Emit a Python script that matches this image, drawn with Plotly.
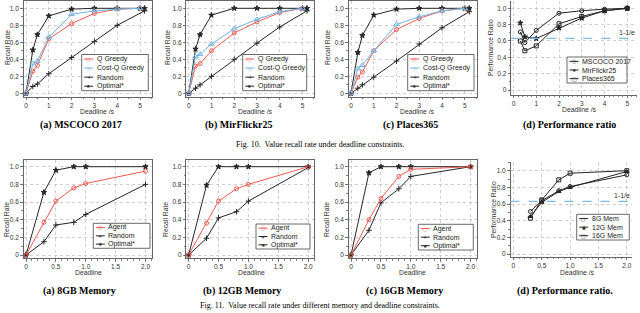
import plotly.graph_objects as go

W, H = 640, 313

# ---------------- data: Fig. 10 ----------------
deadline_top = [0, 0.3, 0.5, 1, 2, 3, 4, 5]
deadline_opt_top = [0, 0.3, 0.5, 1, 2, 3, 4, 5, 5.2]
deadline_rand_top = [0, 0.3, 0.5, 1, 2, 3, 4, 5.2]

mscoco_q = [0, 0.26, 0.33, 0.64, 0.82, 0.94, 0.99, 1.0]
mscoco_costq = [0, 0.35, 0.38, 0.66, 0.93, 0.97, 0.99, 1.0]
mscoco_rand = [0, 0.08, 0.11, 0.23, 0.42, 0.61, 0.80, 0.97]
mscoco_opt = [0, 0.51, 0.69, 0.91, 0.99, 1.0, 1.0, 1.0, 1.0]

mir_q = [0, 0.32, 0.35, 0.50, 0.71, 0.84, 0.95, 1.0]
mir_costq = [0, 0.43, 0.46, 0.58, 0.76, 0.87, 0.96, 1.0]
mir_rand = [0, 0.06, 0.10, 0.20, 0.40, 0.59, 0.78, 0.97]
mir_opt = [0, 0.52, 0.69, 0.92, 1.0, 1.0, 1.0, 1.0, 1.0]

places_q = [0, 0.19, 0.25, 0.50, 0.75, 0.88, 0.97, 1.0]
places_costq = [0, 0.29, 0.33, 0.50, 0.81, 0.90, 0.97, 1.0]
places_rand = [0, 0.06, 0.10, 0.19, 0.38, 0.58, 0.77, 0.96]
places_opt = [0, 0.48, 0.68, 0.92, 0.99, 1.0, 1.0, 1.0, 1.0]

ratio_x_top = [0.3, 0.5, 1, 2, 3, 4, 5]
ratio_mscoco = [0.71, 0.58, 0.73, 0.94, 0.97, 0.99, 1.0]
ratio_mir = [0.82, 0.65, 0.63, 0.76, 0.88, 0.97, 1.0]
ratio_places = [0.60, 0.48, 0.54, 0.81, 0.90, 0.97, 1.0]

# ---------------- data: Fig. 11 ----------------
deadline_bot = [0, 0.3, 0.5, 0.8, 1.0, 2.0]
mem8_agent = [0, 0.37, 0.61, 0.76, 0.81, 0.95]
mem8_rand = [0, 0.15, 0.34, 0.37, 0.46, 0.80]
mem8_opt = [0, 0.71, 0.96, 1.0, 1.0, 1.0]
mem12_agent = [0, 0.36, 0.61, 0.75, 0.80, 1.0]
mem12_rand = [0, 0.19, 0.42, 0.49, 0.61, 0.99]
mem12_opt = [0, 0.79, 1.0, 1.0, 1.0, 1.0]
mem16_agent = [0, 0.40, 0.64, 0.89, 0.97, 1.0]
mem16_rand = [0, 0.28, 0.59, 0.75, 0.89, 1.0]
mem16_opt = [0, 0.93, 1.0, 1.0, 1.0, 1.0]

ratio_x_bot = [0.3, 0.5, 0.8, 1.0, 2.0]
ratio_8g = [0.51, 0.64, 0.76, 0.81, 0.95]
ratio_12g = [0.45, 0.62, 0.75, 0.80, 0.99]
ratio_16g = [0.43, 0.65, 0.89, 0.97, 1.0]

bound = 0.632  # 1-1/e

# tick labels
xt_top = [0, 1, 2, 3, 4, 5]
xt_top_lbl = ["0", "1", "2", "3", "4", "5"]
xt_bot = [0, 0.5, 1.0, 1.5, 2.0]
xt_bot_lbl = ["0", "0.5", "1.0", "1.5", "2.0"]
yt = [0, 0.2, 0.4, 0.6, 0.8, 1.0]
yt_lbl = ["0", "0.2", "0.4", "0.6", "0.8", "1.0"]

# ---------------- styles ----------------
RED = "#ef5b52"
BLUE = "#72b3e2"
BLK = "#262626"
DASH = "#7fbbe6"
SANS = "Liberation Sans"
SERIF = "Liberation Serif"

fig = go.Figure()
shapes = []
annotations = []

# panel geometry in pixels: (x0px, xscale, xdom, y0px, yscale, ydom, xticks, xlabels, xminor, frame)
panels = [
    (26.0, 22.8, (23.7, 151.5), 93.3, 85.0, (1.0, 96.7), xt_top, xt_top_lbl, 0.5, True),
    (188.7, 22.75, (186.4, 314.2), 93.3, 85.0, (1.0, 96.7), xt_top, xt_top_lbl, 0.5, True),
    (351.0, 22.75, (348.7, 476.6), 93.3, 85.0, (1.0, 96.7), xt_top, xt_top_lbl, 0.5, True),
    (513.5, 22.75, (511.2, 637.0), 90.0, 81.7, (1.0, 94.5), xt_top, xt_top_lbl, 0.2, False),
    (26.0, 59.75, (23.7, 151.7), 255.0, 88.3, (160.0, 258.0), xt_bot, xt_bot_lbl, 0.1, True),
    (188.6, 59.8, (186.3, 314.2), 255.0, 88.3, (160.0, 258.0), xt_bot, xt_bot_lbl, 0.1, True),
    (351.0, 59.8, (348.7, 476.6), 255.0, 88.3, (160.0, 258.0), xt_bot, xt_bot_lbl, 0.1, True),
    (513.4, 56.7, (510.5, 632.0), 254.0, 83.3, (161.5, 256.5), xt_bot, xt_bot_lbl, 0.1, False),
]

layout_axes = {}
for i, (x0, xs, xd, y0, ys, yd, xtv, xtl, xmin, frame) in enumerate(panels):
    n = "" if i == 0 else str(i + 1)
    xr = [(xd[0] - x0) / xs, (xd[1] - x0) / xs]
    yr = [(y0 - yd[1]) / ys, (y0 - yd[0]) / ys]
    common = dict(
        showline=True, linecolor="#666", linewidth=1, mirror=frame,
        ticks="outside", ticklen=2.5, tickcolor="#666", tickwidth=0.8,
        showgrid=True, gridcolor="#c4c4c4", griddash="dot", gridwidth=0.8,
        zeroline=False, tickfont=dict(family=SANS, size=6.5, color="#333"),
    )
    layout_axes["xaxis" + n] = dict(
        common, domain=[xd[0] / W, xd[1] / W], range=xr, anchor="y" + n,
        tickmode="array", tickvals=xtv, ticktext=xtl,
        minor=dict(tickmode="linear", tick0=0, dtick=xmin, ticklen=1.5, tickcolor="#666", showgrid=False),
    )
    layout_axes["yaxis" + n] = dict(
        common, domain=[1 - yd[1] / H, 1 - yd[0] / H], range=yr, anchor="x" + n,
        tickmode="array", tickvals=yt, ticktext=yt_lbl,
        minor=dict(tickmode="linear", tick0=0, dtick=0.1, ticklen=1.5, tickcolor="#666", showgrid=False),
    )


def line(ax, x, y, color, symbol, size=4, width=1):
    n = "" if ax == 1 else str(ax)
    fig.add_trace(go.Scatter(
        x=x, y=y, mode="lines+markers", xaxis="x" + n, yaxis="y" + n,
        line=dict(color=color, width=width),
        marker=dict(symbol=symbol, size=size, color=color, line=dict(color=color, width=1)),
        showlegend=False, hoverinfo="skip", cliponaxis=False,
    ))


# Fig. 10 recall panels
for ax, (q, cq, rnd, opt) in enumerate([
    (mscoco_q, mscoco_costq, mscoco_rand, mscoco_opt),
    (mir_q, mir_costq, mir_rand, mir_opt),
    (places_q, places_costq, places_rand, places_opt),
], start=1):
    line(ax, deadline_rand_top, rnd, BLK, "cross-thin-open", 4)
    line(ax, deadline_opt_top, opt, BLK, "star", 4)
    line(ax, deadline_top, q, RED, "circle-open", 4)
    line(ax, deadline_top, cq, BLUE, "triangle-up-open", 5)

# Fig. 10 ratio panel
line(4, ratio_x_top, ratio_mscoco, BLK, "circle-open", 4)
line(4, ratio_x_top, ratio_mir, BLK, "star", 4)
line(4, ratio_x_top, ratio_places, BLK, "square-open", 4)

# Fig. 11 recall panels
for ax, (ag, rnd, opt) in enumerate([
    (mem8_agent, mem8_rand, mem8_opt),
    (mem12_agent, mem12_rand, mem12_opt),
    (mem16_agent, mem16_rand, mem16_opt),
], start=5):
    line(ax, deadline_bot, rnd, BLK, "cross-thin-open", 4)
    line(ax, deadline_bot, opt, BLK, "star", 4)
    line(ax, deadline_bot, ag, RED, "circle-open", 4)

# Fig. 11 ratio panel
line(8, ratio_x_bot, ratio_8g, BLK, "circle-open", 4)
line(8, ratio_x_bot, ratio_12g, BLK, "triangle-up", 4)
line(8, ratio_x_bot, ratio_16g, BLK, "square-open", 4)

# 1-1/e bound lines
for ax in (4, 8):
    n = str(ax)
    shapes.append(dict(type="line", xref="x" + n + " domain", yref="y" + n, x0=0, x1=0.97,
                       y0=bound, y1=bound, line=dict(color=DASH, width=1.2, dash="dash")))
    annotations.append(dict(text="1-1/e", xref="x" + n + " domain", yref="y" + n, x=0.99, y=bound,
                            xanchor="right", yanchor="bottom", showarrow=False, yshift=1,
                            borderpad=0, font=dict(family=SANS, size=7, color="#333")))


def txt(text, x, y, size=7, family=SANS, angle=0, color="#333", bold=False):
    if bold:
        text = "<b>" + text + "</b>"
    annotations.append(dict(text=text, x=x / W, y=1 - y / H, xref="paper", yref="paper",
                            showarrow=False, xanchor="center", yanchor="middle", textangle=angle,
                            borderpad=0, font=dict(family=family, size=size, color=color)))


# legends drawn as shapes + text
def legend(left, top, right, bottom, entries):
    shapes.append(dict(type="rect", xref="paper", yref="paper", x0=left / W, x1=right / W,
                       y0=1 - bottom / H, y1=1 - top / H, fillcolor="white",
                       line=dict(color="#444", width=0.8), layer="above"))
    rh = (bottom - top) / len(entries)
    for k, (name, color, glyph) in enumerate(entries):
        cy = top + rh * (k + 0.5)
        shapes.append(dict(type="line", xref="paper", yref="paper", x0=(left + 2.5) / W,
                           x1=(left + 11.5) / W, y0=1 - cy / H, y1=1 - cy / H,
                           line=dict(color=color, width=1), layer="above"))
        annotations.append(dict(text=glyph, x=(left + 7) / W, y=1 - cy / H, xref="paper", yref="paper",
                                showarrow=False, xanchor="center", yanchor="middle", borderpad=0,
                                font=dict(family="DejaVu Sans", size=5, color=color)))
        annotations.append(dict(text=name, x=(left + 14) / W, y=1 - cy / H, xref="paper", yref="paper",
                                showarrow=False, xanchor="left", yanchor="middle", borderpad=0,
                                font=dict(family=SANS, size=7, color="#222")))


top_entries = [("Q Greedy", RED, "○"), ("Cost-Q Greedy", BLUE, "△"),
               ("Random", BLK, "+"), ("Optimal*", BLK, "★")]
legend(81.7, 54.5, 148.3, 90.7, top_entries)
legend(242.7, 54.5, 306.7, 90.7, top_entries)
legend(407.7, 54.5, 474.0, 90.7, top_entries)
legend(567.0, 57.0, 627.0, 83.0, [("MSCOCO 2017", BLK, "○"), ("MirFlickr25", BLK, "★"),
                                  ("Places365", BLK, "□")])
bot_entries = [("Agent", RED, "○"), ("Random", BLK, "+"), ("Optimal*", BLK, "★")]
legend(93.3, 223.3, 150.0, 248.3, bot_entries)
legend(256.0, 224.0, 310.0, 249.0, bot_entries)
legend(418.3, 224.3, 473.3, 250.0, bot_entries)
legend(576.7, 214.3, 629.3, 240.0, [("8G Mem", BLK, "○"), ("12G Mem", BLK, "▲"),
                                    ("16G Mem", BLK, "□")])

# axis titles
for xp, t in [(97, "Deadline /s"), (255, "Deadline /s"), (417, "Deadline /s")]:
    txt(t, xp, 111.6, size=6.8)
txt("Deadline /s", 579, 109.5, size=6.8)
for xp, t in [(88, "Deadline"), (251, "Deadline"), (412, "Deadline"), (577, "Deadline /s")]:
    txt(t, xp, 272.8, size=6.8)
for xp, t in [(7, "Recall Rate"), (167, "Recall Rate"), (327, "Recall Rate"), (490, "Performance Ratio")]:
    txt(t, xp, 48, angle=-90, size=6.8)
for xp, yp, t in [(6, 220, "Recall Rate"), (165, 220, "Recall Rate"), (326, 220, "Recall Rate"),
                  (493, 210, "Performance Ratio")]:
    txt(t, xp, yp, angle=-90, size=6.8)

# subtitles
for xp, t in [(81, "(a) MSCOCO 2017"), (238, "(b) MirFlickr25"), (410, "(c) Places365"),
              (569, "(d) Performance ratio")]:
    txt(t, xp, 125, size=10, family=SERIF, color="#000", bold=True)
for xp, t in [(79, "(a) 8GB Memory"), (242, "(b) 12GB Memory"), (404, "(c) 16GB Memory"),
              (565, "(d) Performance ratio.")]:
    txt(t, xp, 290.5, size=10, family=SERIF, color="#000", bold=True)

txt("Fig. 10.  Value recall rate under deadline constraints.", 320, 144.5, size=8, family=SERIF, color="#000")
txt("Fig. 11.  Value recall rate under different memory and deadline constraints.", 320, 305.5,
    size=8, family=SERIF, color="#000")

fig.update_layout(
    width=W, height=H, margin=dict(l=0, r=0, t=0, b=0),
    paper_bgcolor="white", plot_bgcolor="white", showlegend=False,
    shapes=shapes, annotations=annotations, **layout_axes,
)

fig.write_html(
    "out.html",
    config={"displayModeBar": False, "staticPlot": True},
    post_script="document.body.style.margin='0';document.body.style.padding='0';"
                "document.body.style.overflow='hidden';",
)
